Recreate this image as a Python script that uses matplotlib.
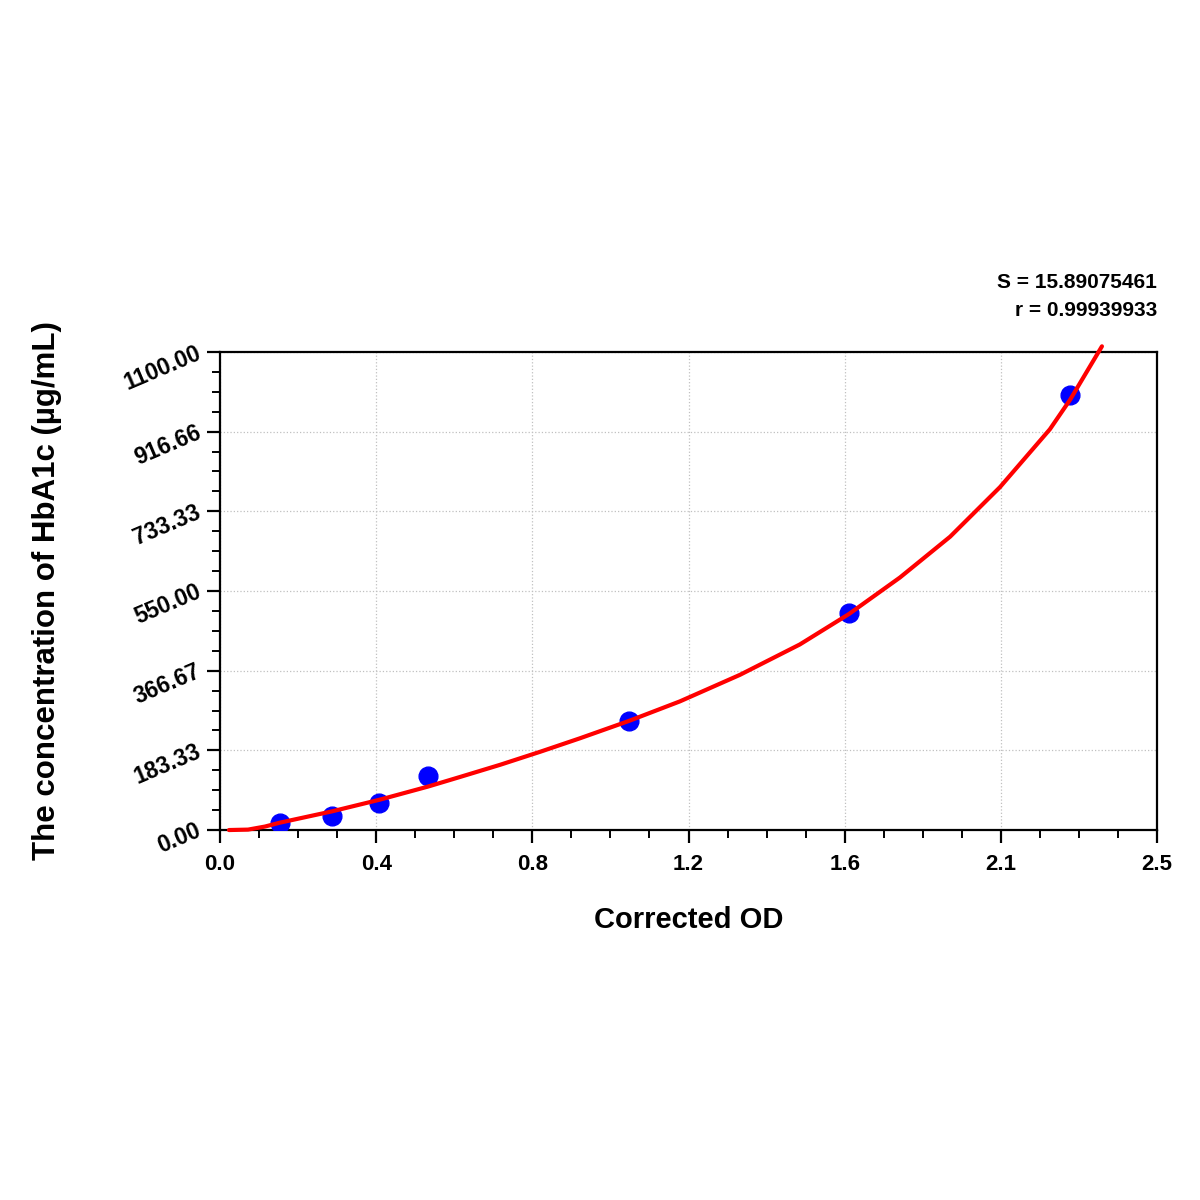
import matplotlib
matplotlib.use("Agg")
import matplotlib.pyplot as plt
from matplotlib.ticker import MultipleLocator, FixedLocator, FixedFormatter

plt.rcParams['font.family'] = ['Liberation Sans', 'DejaVu Sans']
plt.rcParams['font.weight'] = 'bold'

# standard points (corrected OD vs concentration)
od = [0.160, 0.298, 0.424, 0.555, 1.091, 1.678, 2.268]
conc = [15.63, 31.25, 62.5, 125.0, 250.0, 500.0, 1000.0]

# fitted curve
curve_od = [0.024, 0.075, 0.120, 0.160, 0.299, 0.427, 0.555, 0.640, 0.747,
            0.854, 0.960, 1.091, 1.227, 1.387, 1.547, 1.678, 1.814, 1.948,
            2.081, 2.214, 2.268, 2.353]
curve_conc = [0, 1, 8, 17, 43, 70, 100, 122, 150,
              180, 211, 251, 296, 357, 427, 497, 581, 675,
              789, 922, 990, 1113]

x_ticks = [0, 2.5 / 6, 2 * 2.5 / 6, 3 * 2.5 / 6, 4 * 2.5 / 6, 5 * 2.5 / 6, 2.5]
x_labels = ['0.0', '0.4', '0.8', '1.2', '1.6', '2.1', '2.5']
y_ticks = [0, 183.33, 366.67, 550.0, 733.33, 916.66, 1100.0]
y_labels = ['0.00', '183.33', '366.67', '550.00', '733.33', '916.66', '1100.00']

fig = plt.figure(figsize=(12, 12), dpi=100)
ax = fig.add_axes([0.1833, 0.3083, 0.9642 - 0.1833, 0.7067 - 0.3083])

ax.plot(od, conc, 'o', color='#0000ff', markersize=13.5, zorder=3)
ax.plot(curve_od, curve_conc, '-', color='#ff0000', lw=3.0, zorder=4,
        clip_on=False, solid_capstyle='round', solid_joinstyle='round')

ax.set_xlim(0, 2.5)
ax.set_ylim(0, 1100)
ax.xaxis.set_major_locator(FixedLocator(x_ticks))
ax.xaxis.set_major_formatter(FixedFormatter(x_labels))
ax.xaxis.set_minor_locator(MultipleLocator(2.5 / 24))
ax.yaxis.set_major_locator(FixedLocator(y_ticks))
ax.yaxis.set_major_formatter(FixedFormatter(y_labels))
ax.yaxis.set_minor_locator(MultipleLocator(1100 / 24))

ax.grid(True, which='major', linestyle=':', color='#c0c0c0', lw=0.9)
for s in ax.spines.values():
    s.set_linewidth(1.6)

ax.tick_params(which='major', direction='out', length=9.5, width=1.6)
ax.tick_params(which='minor', direction='out', length=5.5, width=1.4)
ax.tick_params(axis='x', pad=8, labelsize=16)
ax.tick_params(axis='y', pad=5, labelsize=16.5)
for lab in ax.get_yticklabels():
    lab.set_rotation(23)
    lab.set_rotation_mode('anchor')
    lab.set_ha('right')
    lab.set_va('center')
    lab.set_fontweight('bold')
for lab in ax.get_xticklabels():
    lab.set_fontweight('bold')

ax.set_xlabel('Corrected OD', fontsize=21, fontweight='bold', labelpad=22)
ax.set_ylabel('The concentration of HbA1c (µg/mL)', fontsize=22.5,
              fontweight='bold', labelpad=42)

fig.text(0.9642, 1 - 283 / 1200, 'S = 15.89075461', ha='right', va='center',
         fontsize=15, fontweight='bold')
fig.text(0.9642, 1 - 311 / 1200, 'r = 0.99939933', ha='right', va='center',
         fontsize=15, fontweight='bold')

fig.savefig('out.png', dpi=100, facecolor='white')
